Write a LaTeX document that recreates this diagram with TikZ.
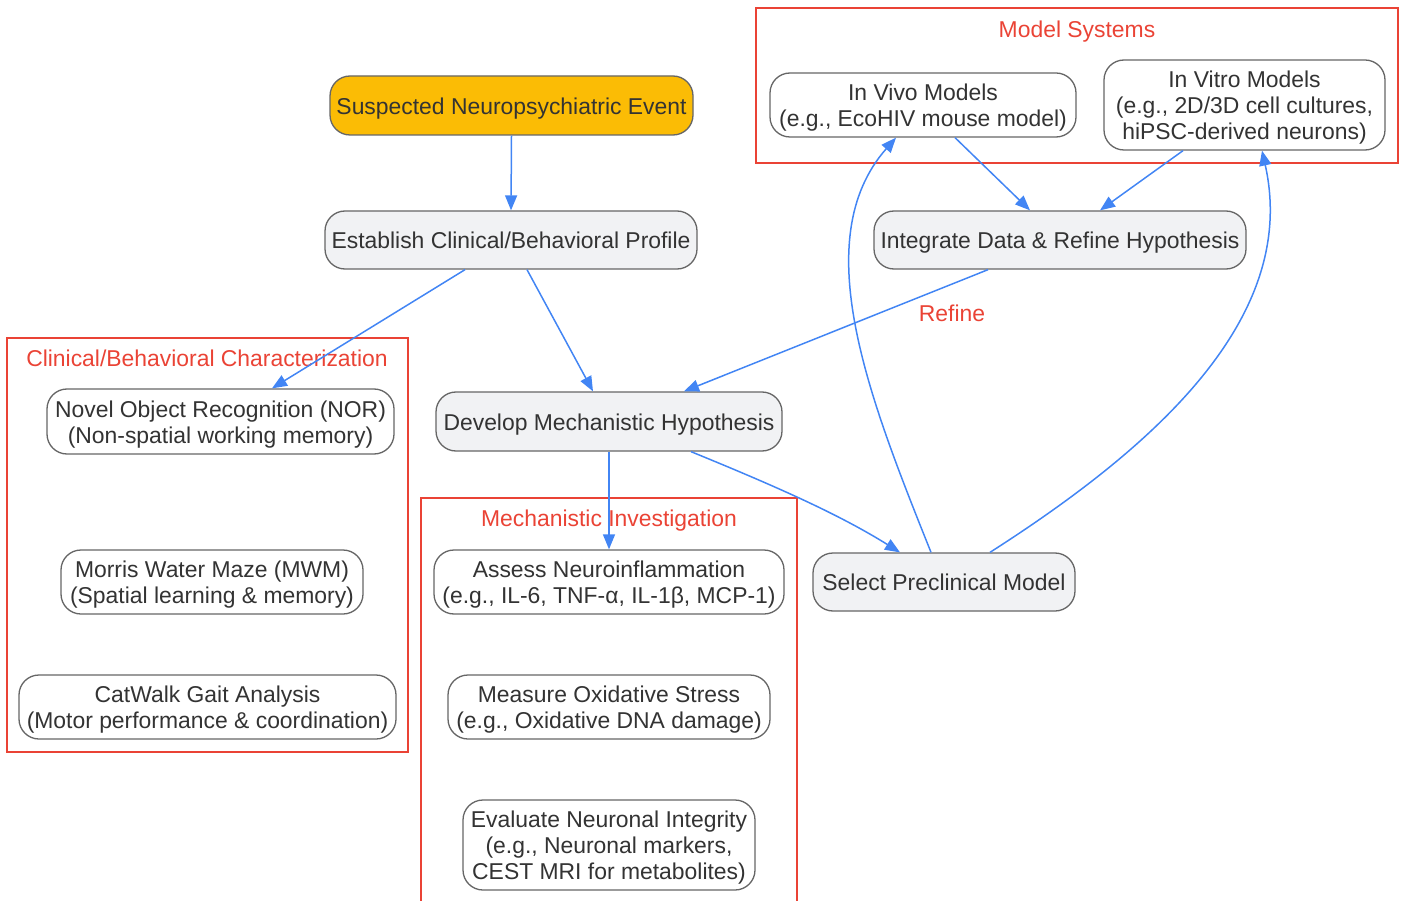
\documentclass[tikz,border=0pt]{standalone}
\usepackage{fontspec}
\setmainfont{Liberation Sans}
\usetikzlibrary{arrows.meta}
\definecolor{eblue}{HTML}{4285F4}
\definecolor{cred}{HTML}{EA4335}
\definecolor{startfill}{HTML}{FBBC05}
\definecolor{boxfill}{HTML}{F1F2F4}
\definecolor{boxline}{HTML}{666666}
\definecolor{txt}{HTML}{333333}
\newcommand{\linestrut}{\rule[-4.2pt]{0pt}{26pt}}
\newcommand{\boxfont}{\fontsize{22.9}{26}\selectfont\lineskiplimit=-30pt\relax\lineskip=0pt\relax}
\begin{document}
\begin{tikzpicture}[x=1pt,y=-1pt,
  box/.style={draw=boxline, line width=1.3pt, rounded corners=20pt, fill=boxfill,
    align=center, inner sep=0pt, text=txt, font=\boxfont,
    execute at begin node=\linestrut, execute at end node=\linestrut},
  wbox/.style={box, fill=white},
  startbox/.style={box, fill=startfill},
  cluster/.style={draw=cred, line width=1.3pt},
  ctitle/.style={text=cred, font=\boxfont, inner sep=0pt,
    execute at begin node=\linestrut},
  edge/.style={draw=eblue, line width=1.5pt, -{Triangle[length=15pt,width=12pt]}}]
\useasboundingbox (0,0) rectangle (1405,901);
% clusters
\draw[cluster] (756,8) rectangle (1398,163);
\node[ctitle] (tms) at (1077,29) {Model Systems};
\draw[cluster] (7,338) rectangle (408,752);
\node[ctitle] (tcb) at (207,358) {Clinical/Behavioral Characterization};
\draw[cluster] (421,905) -- (421,498) -- (797,498) -- (797,905);
\node[ctitle] (tmi) at (609,518) {Mechanistic Investigation};
% nodes
\node[startbox, minimum width=363pt, minimum height=59pt] (sus) at (511.5,105.5) {Suspected Neuropsychiatric Event};
\node[box, minimum width=372pt, minimum height=58pt] (est) at (511,240) {Establish Clinical/Behavioral Profile};
\node[box, minimum width=372pt, minimum height=58pt] (int) at (1060,240) {Integrate Data \& Refine Hypothesis};
\node[box, minimum width=346pt, minimum height=59pt] (dev) at (609,421.5) {Develop Mechanistic Hypothesis};
\node[box, minimum width=262pt, minimum height=58pt] (sel) at (944,582) {Select Preclinical Model};
\node[wbox, minimum width=306pt, minimum height=64pt] (viv) at (923,105) {\linestrut In Vivo Models\\(e.g., EcoHIV mouse model)\linestrut};
\node[wbox, minimum width=281pt, minimum height=90pt] (vit) at (1244.5,105) {\linestrut In Vitro Models\\(e.g., 2D/3D cell cultures,\\hiPSC-derived neurons)\linestrut};
\node[wbox, minimum width=347pt, minimum height=65pt] (nor) at (220.5,421.5) {\linestrut Novel Object Recognition (NOR)\\(Non-spatial working memory)\linestrut};
\node[wbox, minimum width=302pt, minimum height=64pt] (mwm) at (212,582) {\linestrut Morris Water Maze (MWM)\\(Spatial learning \& memory)\linestrut};
\node[wbox, minimum width=377pt, minimum height=64pt] (cat) at (207.5,707) {\linestrut CatWalk Gait Analysis\\(Motor performance \& coordination)\linestrut};
\node[wbox, minimum width=350pt, minimum height=64pt] (ass) at (609,582) {\linestrut Assess Neuroinflammation\\(e.g., IL-6, TNF-α, IL-1β, MCP-1)\linestrut};
\node[wbox, minimum width=322pt, minimum height=64pt] (mea) at (609,707) {\linestrut Measure Oxidative Stress\\(e.g., Oxidative DNA damage)\linestrut};
\node[wbox, minimum width=292pt, minimum height=90pt] (eva) at (609,845) {\linestrut Evaluate Neuronal Integrity\\(e.g., Neuronal markers,\\CEST MRI for metabolites)\linestrut};
% edges
\draw[edge] (sus.south) -- (est.north);
\draw[edge] ([xshift=-46pt]est.south) -- ([xshift=51.5pt]nor.north);
\draw[edge] ([xshift=16pt]est.south) -- ([xshift=-16pt]dev.north);
\draw[edge] ([xshift=-72pt]int.south) -- ([xshift=75pt]dev.north);
\node[ctitle] (refine) at (952,313) {Refine};
\draw[edge] (dev.south) -- (ass.north);
\draw[edge] ([xshift=82pt]dev.south) .. controls (780,488) and (840,515) .. ([xshift=-44pt]sel.north);
\draw[edge] ([xshift=-13pt]sel.north) .. controls (870,400) and (806,240) .. ([xshift=-27pt]viv.south);
\draw[edge] ([xshift=46pt]sel.north) .. controls (1150,450) and (1300,320) .. ([xshift=17.5pt]vit.south);
\draw[edge] ([xshift=32pt]viv.south) -- ([xshift=-30pt]int.north);
\draw[edge] ([xshift=-61.5pt]vit.south) -- ([xshift=40pt]int.north);
\end{tikzpicture}
\end{document}
